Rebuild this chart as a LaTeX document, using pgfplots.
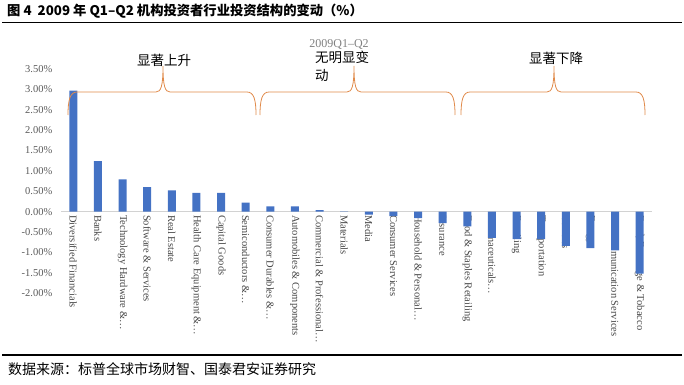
\documentclass[border=0pt]{standalone}
\usepackage{pgfplots}
\pgfplotsset{compat=1.18}
\usepackage{fontspec}
\setmainfont{Liberation Serif}
\newfontfamily\cjk{Noto Sans CJK SC}
\definecolor{barblue}{HTML}{4472C4}
\definecolor{bracecol}{HTML}{E08A4A}
\definecolor{tickgray}{HTML}{595959}

\begin{document}
\begin{tikzpicture}[x=1pt,y=1pt]
\path[use as bounding box] (0,0) rectangle (684,384);
% title
\node[anchor=west, inner sep=0pt, font=\cjk\bfseries\fontsize{13.3}{15}\selectfont] at (7,372.5) {图 4\ \ 2009 年 Q1–Q2 机构投资者行业投资结构的变动（\%）};
\draw[line width=1.3pt] (2,361.5) -- (682,361.5);
% footer
\draw[line width=1.3pt] (2,29) -- (682,29);
\node[anchor=west, inner sep=0pt, font=\cjk\fontsize{14}{16}\selectfont] at (8,15) {数据来源：标普全球市场财智、国泰君安证券研究};

\begin{axis}[
  at={(61pt,90.7pt)}, anchor=south west,
  scale only axis, width=591pt, height=224.4pt,
  xmin=-0.5, xmax=23.5, ymin=-2, ymax=3.5,
  axis x line=middle, axis y line=left,
  x axis line style={-, draw=gray!35, line width=0.6pt},
  y axis line style={draw=none},
  tick style={draw=none},
  ytick={-2,-1.5,-1,-0.5,0,0.5,1,1.5,2,2.5,3,3.5},
  yticklabels={-2.00\%,-1.50\%,-1.00\%,-0.50\%,0.00\%,0.50\%,1.00\%,1.50\%,2.00\%,2.50\%,3.00\%,3.50\%},
  yticklabel style={font=\fontsize{10.5}{12}\selectfont, text=tickgray, anchor=east, xshift=-3pt},
  xtick={0,...,23},
  xticklabels={Diversified Financials, Banks, Technology Hardware \&…, Software \& Services, Real Estate, Health Care Equipment \&…, Capital Goods, Semiconductors \&…, Consumer Durables \&…, Automobiles \& Components, Commercial \& Professional…, Materials, Media, Consumer Services, Household \& Personal…, Insurance, Food \& Staples Retailing, Pharmaceuticals…, Retailing, Transportation, Utilities, Energy, Telecommunication Services, {Food, Beverage \& Tobacco}},
  xticklabel style={font=\fontsize{10.5}{12}\selectfont, text=tickgray!80!black, rotate=-90, anchor=west, inner sep=1pt, yshift=0pt},
  clip=false,
]
\addplot[ybar, bar width=8pt, fill=barblue, draw=none] coordinates {
 (0,2.97) (1,1.24) (2,0.79) (3,0.60) (4,0.52) (5,0.46) (6,0.46) (7,0.22)
 (8,0.13) (9,0.13) (10,0.04) (11,0.01) (12,-0.07) (13,-0.11) (14,-0.16) (15,-0.28)
 (16,-0.36) (17,-0.64) (18,-0.67) (19,-0.67) (20,-0.84) (21,-0.89) (22,-0.95) (23,-1.52)
};
\end{axis}

% annotations
\node[font=\fontsize{12}{14}\selectfont, text=gray] at (339,340) {2009Q1–Q2};
\node[font=\cjk\fontsize{13.5}{16}\selectfont] at (164,324) {显著上升};
\node[font=\cjk\fontsize{13.5}{16}\selectfont, anchor=west, align=left, inner sep=0pt] at (315,318) {无明显变\\[2pt]动};
\node[font=\cjk\fontsize{13.5}{16}\selectfont] at (556,326) {显著下降};

\begin{scope}[draw=bracecol, line width=0.8pt]
\foreach \L/\P/\R in {68/163/256, 260/354/455, 461/554/645}{
  \draw (\L,269) .. controls (\L,284) and (\L+2,292) .. (\L+9,292) -- (\P-7,292)
    .. controls (\P-2,292) and (\P,298) .. (\P,318)
    .. controls (\P,298) and (\P+2,292) .. (\P+7,292) -- (\R-9,292)
    .. controls (\R-2,292) and (\R,284) .. (\R,269);
}
\end{scope}
\end{tikzpicture}
\end{document}
